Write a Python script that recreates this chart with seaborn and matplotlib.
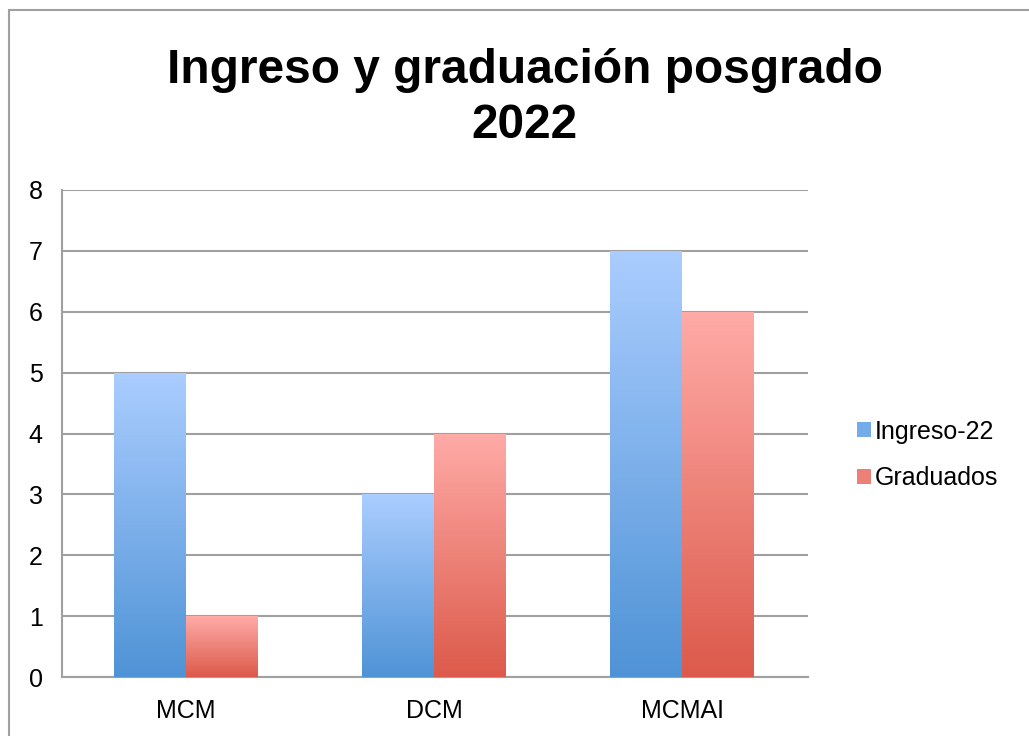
import numpy as np
import pandas as pd
import matplotlib
matplotlib.use("Agg")
import matplotlib.pyplot as plt
import seaborn as sns
from matplotlib.colors import LinearSegmentedColormap
from matplotlib.patches import Patch
from matplotlib.lines import Line2D

categories = ["MCM", "DCM", "MCMAI"]
ingreso = [5, 3, 7]
graduados = [1, 4, 6]
series_names = ["Ingreso-22", "Graduados"]
yticks = [0, 1, 2, 3, 4, 5, 6, 7, 8]

# top / bottom colours of each gradient
blue_grad = ("#abcdff", "#4f93d6")
red_grad = ("#ffaba7", "#dc5a4b")


def gradient_bars(ax, patches, grad):
    cmap = LinearSegmentedColormap.from_list("g", [grad[1], grad[0]])
    for p in patches:
        x0, y0 = p.get_x(), p.get_y()
        w, h = p.get_width(), p.get_height()
        if h == 0:
            continue
        img = ax.imshow(np.linspace(0, 1, 256).reshape(-1, 1), cmap=cmap,
                        origin="lower", aspect="auto",
                        extent=[x0, x0 + w, y0, y0 + h], zorder=3)
        img.set_clip_path(p)
        p.set_facecolor("none")
        p.set_edgecolor("none")


df = pd.DataFrame({
    "programa": categories * 2,
    "valor": ingreso + graduados,
    "serie": [series_names[0]] * 3 + [series_names[1]] * 3,
})

sns.set_theme(style="white")
plt.rcParams["font.family"] = ["Liberation Sans", "DejaVu Sans"]
plt.rcParams["text.color"] = "black"
plt.rcParams["xtick.color"] = "black"
plt.rcParams["ytick.color"] = "black"

fig = plt.figure(figsize=(10.29, 7.36), dpi=100)
ax = fig.add_axes([0.0603, 0.080, 0.7247, 0.662])

sns.barplot(data=df, x="programa", y="valor", hue="serie", order=categories,
            hue_order=series_names, palette=[blue_grad[1], red_grad[1]],
            width=0.58, gap=0, legend=False, ax=ax, zorder=3)

gradient_bars(ax, ax.containers[0], blue_grad)
gradient_bars(ax, ax.containers[1], red_grad)

ax.set_xlim(-0.5, 2.505)
ax.set_ylim(0, 8)
ax.set_yticks(yticks)
ax.set_yticklabels([str(t) for t in yticks], fontsize=18)
ax.tick_params(axis="x", labelsize=18, length=0, pad=16)
ax.tick_params(axis="y", length=0, pad=14)
ax.set_xlabel("")
ax.set_ylabel("")
ax.yaxis.grid(True, color="#a0a0a0", linewidth=1.5, zorder=0)
ax.set_axisbelow(True)
for s in ["top", "right"]:
    ax.spines[s].set_visible(False)
for s in ["left", "bottom"]:
    ax.spines[s].set_color("#a0a0a0")
    ax.spines[s].set_linewidth(1.5)

fig.text(0.51, 1 - 83 / 736, "Ingreso y graduación posgrado", ha="center",
         va="baseline", fontsize=34.5, fontweight="bold")
fig.text(0.51, 1 - 138 / 736, "2022", ha="center", va="baseline",
         fontsize=34.5, fontweight="bold")

handles = [Patch(facecolor="#74acea", edgecolor="none"),
           Patch(facecolor="#ec7f76", edgecolor="none")]
fig.legend(handles, series_names, loc="center left",
           bbox_to_anchor=(0.811, 0.382), frameon=False, fontsize=18,
           handlelength=0.55, handleheight=0.55, handletextpad=0.15,
           labelspacing=0.89)

# outer frame (left and top edges visible)
fig.add_artist(Line2D([9 / 1029, 9 / 1029], [0, 1 - 10 / 736],
                      transform=fig.transFigure, color="#a0a0a0", linewidth=1.5))
fig.add_artist(Line2D([9 / 1029, 1], [1 - 10 / 736, 1 - 10 / 736],
                      transform=fig.transFigure, color="#a0a0a0", linewidth=1.5))

fig.savefig("out.png", dpi=100)
